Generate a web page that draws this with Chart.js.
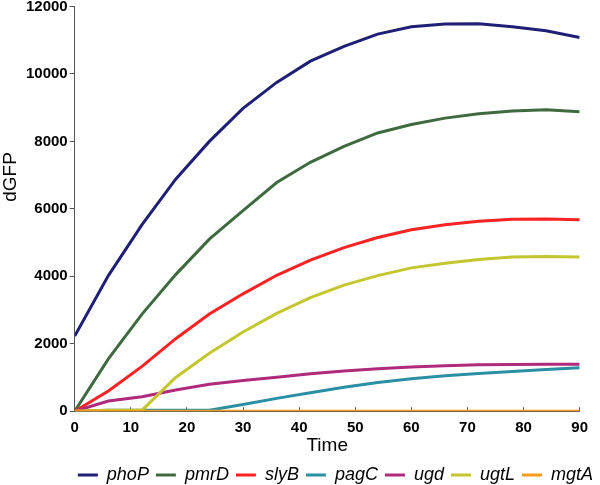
<!doctype html>
<html>
<head>
  <meta charset="utf-8" />
  <title>dGFP over time</title>
  <script src="https://cdn.jsdelivr.net/npm/chart.js"></script>
  <style>html,body{margin:0;padding:0;background:#fff}#wrap{width:600px;height:485px}</style>
</head>
<body>
  <div id="wrap"><canvas id="chart" width="600" height="485"></canvas></div>
  <script>
    // sampled every 6 min
    const time = [0, 6, 12, 18, 24, 30, 36, 42, 48, 54, 60, 66, 72, 78, 84, 90];
    const genes = ['phoP', 'pmrD', 'slyB', 'pagC', 'ugd', 'ugtL', 'mgtA'];
    const phoP = [2230, 4020, 5530, 6880, 8000, 8980, 9750, 10380, 10820, 11180, 11400, 11480, 11490, 11400, 11280, 11080];
    const pmrD = [0, 1550, 2880, 4050, 5100, 5950, 6780, 7380, 7850, 8250, 8500, 8690, 8820, 8900, 8940, 8880];
    const slyB = [0, 600, 1330, 2150, 2880, 3480, 4030, 4480, 4850, 5150, 5380, 5530, 5630, 5690, 5700, 5680];
    const pagC = [0, 30, 30, 30, 30, 200, 380, 550, 710, 850, 960, 1050, 1120, 1180, 1240, 1290];
    const ugd = [0, 300, 430, 630, 800, 910, 1010, 1110, 1190, 1260, 1310, 1350, 1375, 1385, 1390, 1390];
    const ugtL = [0, 30, 30, 1000, 1720, 2350, 2900, 3370, 3740, 4020, 4250, 4390, 4500, 4570, 4590, 4570];
    const mgtA = [0, 0, 0, 0, 0, 0, 0, 0, 0, 0, 0, 0, 0, 0, 0, 0];
    const yTicks = [0, 2000, 4000, 6000, 8000, 10000, 12000];
    const xTicks = [0, 10, 20, 30, 40, 50, 60, 70, 80, 90];

    const series = [phoP, pmrD, slyB, pagC, ugd, ugtL, mgtA];
    const colors = ['#1f1f75', '#3f6a3f', '#fa2222', '#2b8fa3', '#b02a7c', '#c4c62f', '#f79b1c'];

    const FONT = '"Liberation Sans", Arial, Helvetica, sans-serif';

    // y title sits a bit above the middle of the axis in the original
    const yTitle = {
      id: 'yTitle',
      afterDraw(chart) {
        const ctx = chart.ctx;
        ctx.save();
        ctx.translate(11, 177);
        ctx.rotate(-Math.PI / 2);
        ctx.font = '19px ' + FONT;
        ctx.fillStyle = '#000';
        ctx.textAlign = 'center';
        ctx.textBaseline = 'middle';
        ctx.fillText('dGFP', 0, 0);
        ctx.restore();
      }
    };

    const datasets = genes.map((g, i) => ({
      label: g,
      data: time.map((t, j) => ({ x: t, y: series[i][j] })),
      borderColor: colors[i],
      backgroundColor: colors[i],
      borderWidth: 3,
      pointRadius: 0,
      tension: 0,
      fill: false,
      order: genes.length - i
    }));

    new Chart(document.getElementById('chart').getContext('2d'), {
      type: 'line',
      data: { datasets },
      options: {
        responsive: false,
        animation: false,
        layout: { padding: { left: 24, right: 0, top: 0, bottom: -9 } },
        plugins: {
          tooltip: { enabled: false },
          legend: {
            position: 'bottom',
            align: 'end',
            labels: {
              boxWidth: 20,
              boxHeight: 3,
              padding: 7,
              color: '#000',
              font: { family: FONT, size: 18, style: 'italic' },
              sort: (a, b) => a.datasetIndex - b.datasetIndex,
              // thin line swatches, no stroke round the box
              generateLabels: (chart) =>
                Chart.defaults.plugins.legend.labels.generateLabels(chart)
                  .map(l => Object.assign(l, { lineWidth: 0 }))
            }
          }
        },
        scales: {
          x: {
            type: 'linear',
            min: 0,
            max: 90,
            afterBuildTicks: (s) => { s.ticks = xTicks.map(v => ({ value: v })); },
            grid: { display: true, drawOnChartArea: false, tickLength: -4, color: '#555' },
            border: { color: '#555', width: 1 },
            ticks: {
              padding: 12,
              color: '#000',
              maxRotation: 0,
              font: { family: FONT, size: 15, weight: 'bold' }
            },
            title: {
              display: true,
              text: 'Time',
              color: '#000',
              padding: { top: -15, bottom: 2 },
              font: { family: FONT, size: 19 }
            }
          },
          y: {
            min: 0,
            max: 12000,
            afterBuildTicks: (s) => { s.ticks = yTicks.map(v => ({ value: v })); },
            grid: { display: true, drawOnChartArea: false, tickLength: 5, color: '#555' },
            border: { color: '#555', width: 1 },
            ticks: {
              padding: 2,
              color: '#000',
              font: { family: FONT, size: 15, weight: 'bold', lineHeight: 0.6 },
              callback: (v) => String(v)
            }
          }
        }
      },
      plugins: [yTitle]
    });
  </script>
</body>
</html>
